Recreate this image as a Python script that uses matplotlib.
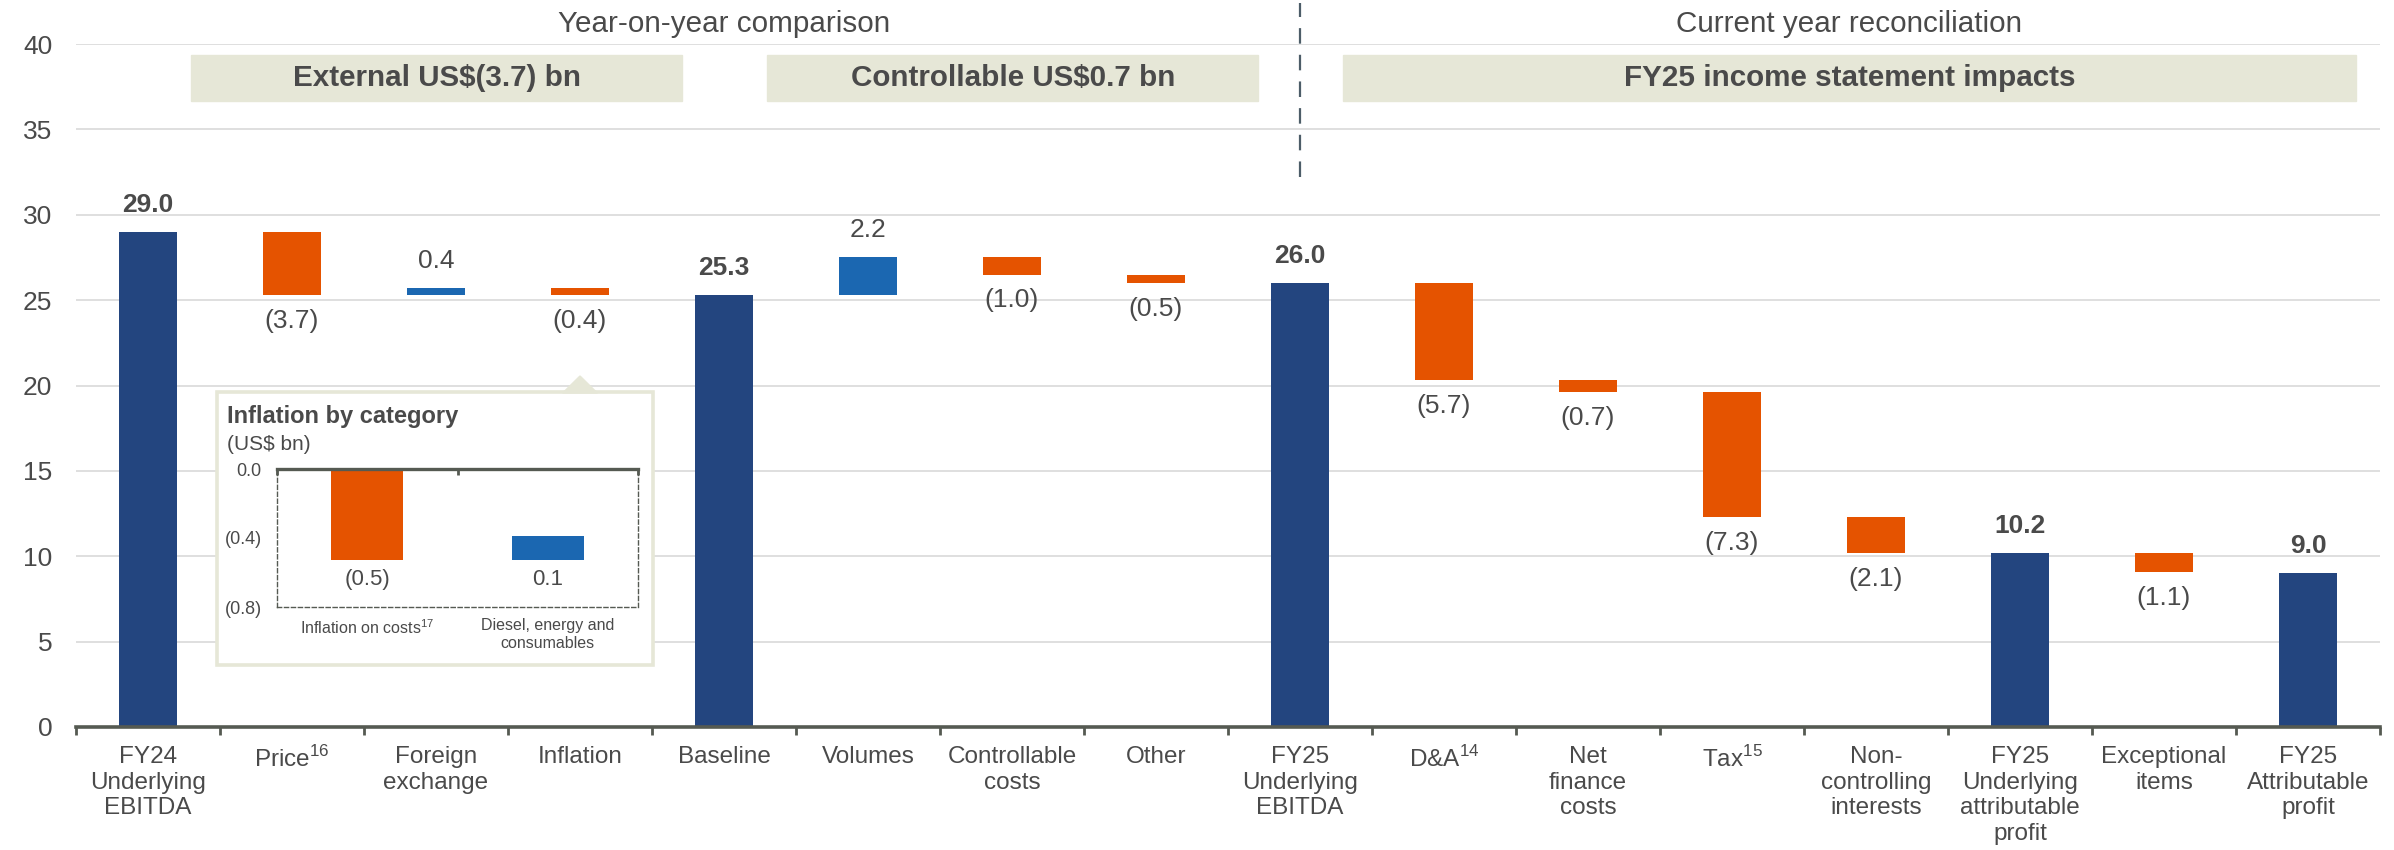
import matplotlib
matplotlib.use("Agg")
import matplotlib.pyplot as plt
from matplotlib.patches import Rectangle, Polygon
from matplotlib import transforms

plt.rcParams["font.family"] = ["Liberation Sans", "DejaVu Sans"]
plt.rcParams["mathtext.fontset"] = "custom"
plt.rcParams["mathtext.rm"] = "Liberation Sans"

# main waterfall (US$ bn)
categories = ["FY24\nUnderlying\nEBITDA", "Price$^{\\mathregular{16}}$", "Foreign\nexchange",
              "Inflation", "Baseline", "Volumes", "Controllable\ncosts", "Other",
              "FY25\nUnderlying\nEBITDA", "D&A$^{\\mathregular{14}}$", "Net\nfinance\ncosts",
              "Tax$^{\\mathregular{15}}$", "Non-\ncontrolling\ninterests",
              "FY25\nUnderlying\nattributable\nprofit", "Exceptional\nitems",
              "FY25\nAttributable\nprofit"]
values = [29.0, -3.7, 0.4, -0.4, 25.3, 2.2, -1.0, -0.5, 26.0,
          -5.7, -0.7, -7.3, -2.1, 10.2, -1.1, 9.0]
is_total = [True, False, False, False, True, False, False, False, True,
            False, False, False, False, True, False, True]

# inset: inflation by category
infl_cats = ["Inflation on costs$^{\\mathregular{17}}$", "Diesel, energy and\nconsumables"]
infl_vals = [-0.53, 0.14]

headers = ["External US$(3.7) bn", "Controllable US$0.7 bn", "FY25 income statement impacts"]
sections = ["Year-on-year comparison", "Current year reconciliation"]

NAVY = "#23457F"
ORANGE = "#E55300"
BLUE = "#1B67B1"
BEIGE = "#E6E7D7"
TXT = "#4a4a4a"
AXC = "#555a52"
GRID = "#d9d9d9"


def fmt(v):
    return f"({abs(v):.1f})" if v < 0 else f"{v:.1f}"


def waterfall(ax, vals, totals, width):
    running = 0
    for i, (v, tot) in enumerate(zip(vals, totals)):
        if tot:
            bottom, h, c = 0, v, NAVY
            running = v
        else:
            bottom = running if v > 0 else running + v
            h = abs(v)
            c = BLUE if v > 0 else ORANGE
            running += v
        ax.bar(i, h, bottom=bottom, width=width, color=c, zorder=3)
        if v >= 0:
            ax.annotate(fmt(v), (i, bottom + h), xytext=(0, 11), textcoords="offset points",
                        ha="center", va="bottom", fontsize=19, color=TXT,
                        fontweight="bold" if tot else "normal")
        else:
            ax.annotate(fmt(v), (i, bottom), xytext=(0, -10), textcoords="offset points",
                        ha="center", va="top", fontsize=19, color=TXT)


fig = plt.figure(figsize=(23.94, 8.5), dpi=100)
ax = fig.add_axes([76 / 2394, 1 - 727 / 850, 2304 / 2394, 683 / 850])

waterfall(ax, values, is_total, 0.4)

ax.set_xlim(-0.5, len(categories) - 0.5)
ax.set_ylim(0, 40)
ax.set_yticks(range(0, 41, 5))
ax.set_xticks(range(len(categories)))
ax.set_xticklabels(categories, fontsize=17.5, color=TXT, linespacing=1.2, va="top")
ax.set_xticks([i - 0.5 for i in range(len(categories) + 1)], minor=True)
ax.tick_params(axis="x", which="major", length=0, pad=14)
ax.tick_params(axis="x", which="minor", length=6, width=2, color=AXC)
ax.tick_params(axis="y", length=0, pad=17, labelsize=19, labelcolor=TXT)
ax.grid(axis="y", color=GRID, lw=1.2, zorder=0)
ax.set_axisbelow(True)
for side in ["left", "right", "top"]:
    ax.spines[side].set_visible(False)
ax.spines["bottom"].set_color(AXC)
ax.spines["bottom"].set_linewidth(2.6)
ax.spines["bottom"].set_zorder(4)

# section headers and boxes
ax.text(4.0, 41.2, sections[0], ha="center", va="center", fontsize=21.3, color=TXT, clip_on=False)
ax.text(11.81, 41.2, sections[1], ha="center", va="center", fontsize=21.3, color=TXT, clip_on=False)
for (x0, x1), t in zip([(0.30, 3.71), (4.30, 7.71), (8.30, 15.33)], headers):
    ax.add_patch(Rectangle((x0, 36.65), x1 - x0, 2.7, color=BEIGE, zorder=2))
    ax.text((x0 + x1) / 2, 38.0, t, ha="center", va="center", fontsize=21.3,
            fontweight="bold", color=TXT, zorder=3)
ax.plot([8, 8], [32.2, 42.4], color="#4d5d68", lw=1.6, ls=(0, (7, 5)), clip_on=False, zorder=3)

# inset panel with pointer towards Inflation
tr = transforms.blended_transform_factory(ax.transData, fig.transFigure)
panel = Rectangle((217 / 2394, 1 - 665 / 850), 436 / 2394, 273 / 850, transform=fig.transFigure,
                  facecolor="white", edgecolor=BEIGE, lw=2.6, zorder=2)
fig.add_artist(panel)
dx = 0.12
tri = Polygon([(3 - dx, 1 - 393 / 850), (3, 1 - 376 / 850), (3 + dx, 1 - 393 / 850)],
              closed=True, transform=tr, facecolor=BEIGE, edgecolor=BEIGE, lw=1, zorder=2)
fig.add_artist(tri)
fig.text(227 / 2394, 1 - 417 / 850, "Inflation by category", fontsize=17, fontweight="bold",
         color=TXT, va="center", zorder=3)
fig.text(227 / 2394, 1 - 444 / 850, "(US$ bn)", fontsize=15, color=TXT, va="center", zorder=3)

inax = fig.add_axes([277 / 2394, 1 - 607 / 850, 361 / 2394, 138 / 850], zorder=5)
inax.patch.set_visible(False)
running = 0
for i, v in enumerate(infl_vals):
    bottom = running if v > 0 else running + v
    running += v
    inax.bar(i, abs(v), bottom=bottom, width=0.4, color=BLUE if v > 0 else ORANGE)
    inax.annotate(fmt(v), (i, min(bottom, running)), xytext=(0, -6), textcoords="offset points",
                  ha="center", va="top", fontsize=16, color=TXT)
inax.set_xlim(-0.5, 1.5)
inax.set_ylim(-0.8, 0)
inax.set_yticks([0, -0.4, -0.8])
inax.set_yticklabels(["0.0", "(0.4)", "(0.8)"])
inax.tick_params(axis="y", length=0, pad=11, labelsize=13, labelcolor=TXT)
inax.set_xticks(range(len(infl_cats)))
inax.set_xticklabels(infl_cats, fontsize=11.5, color=TXT, linespacing=1.2, va="top")
inax.tick_params(axis="x", which="major", length=0, pad=8)
inax.set_xticks([-0.5, 0.5, 1.5], minor=True)
inax.tick_params(axis="x", which="minor", top=True, bottom=False, direction="in",
                 length=4, width=2, color=AXC)
inax.spines["top"].set_color(AXC)
inax.spines["top"].set_linewidth(2.4)
for side in ["left", "right", "bottom"]:
    inax.spines[side].set_linestyle((0, (3, 2)))
    inax.spines[side].set_linewidth(1)
    inax.spines[side].set_color(AXC)

fig.savefig("out.png", dpi=100)
